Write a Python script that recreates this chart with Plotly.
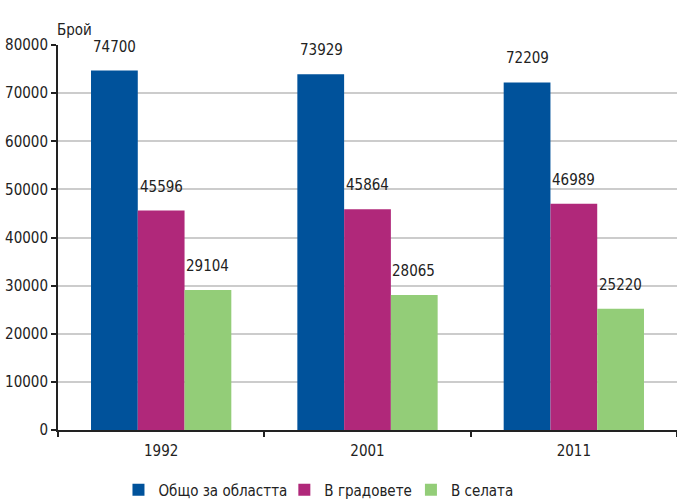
import plotly.graph_objects as go

years = ["1992", "2001", "2011"]
total = [74700, 73929, 72209]
towns = [45596, 45864, 46989]
villages = [29104, 28065, 25220]

series = [
    ("Общо за областта", total, "#00529B"),
    ("В градовете", towns, "#B0287A"),
    ("В селата", villages, "#93CD78"),
]

FONT = "Liberation Sans Narrow, DejaVu Sans Condensed, Arial Narrow, sans-serif"
legend_ids = ["legend", "legend2", "legend3"]
legend_x = [0.175, 0.42, 0.607]

fig = go.Figure()
for (name, vals, color), lg in zip(series, legend_ids):
    fig.add_trace(go.Bar(
        name=name, x=years, y=vals,
        marker=dict(color=color, line=dict(width=0)),
        text=[str(v) for v in vals],
        textposition="none",
        legend=lg,
    ))

# value labels floating above each bar
offsets = [-1, 0, 1]
for (name, vals, color), off in zip(series, offsets):
    for i, v in enumerate(vals):
        fig.add_annotation(
            x=i + off * 0.225, y=v, xref="x", yref="y",
            text=str(v), showarrow=False, yshift=24,
            font=dict(family=FONT, size=15, color="#222"),
        )

fig.add_annotation(
    text="Брой", xref="paper", yref="paper", x=-0.005, y=1.0,
    yshift=26, xanchor="left", showarrow=False,
    font=dict(family=FONT, size=15, color="#222"),
)

legend_style = dict(
    orientation="h", xref="container", yref="paper",
    y=-0.156, yanchor="middle", xanchor="left",
    font=dict(family=FONT, size=15, color="#222"),
    bgcolor="rgba(0,0,0,0)",
)

fig.update_layout(
    width=677, height=499,
    margin=dict(l=58, r=0, t=45, b=69, autoexpand=False),
    paper_bgcolor="white", plot_bgcolor="white",
    barmode="group", bargap=0.32, bargroupgap=0,
    font=dict(family=FONT, size=15, color="#222"),
    showlegend=True,
    legend=dict(x=legend_x[0], **legend_style),
    legend2=dict(x=legend_x[1], **legend_style),
    legend3=dict(x=legend_x[2], **legend_style),
    xaxis=dict(
        type="category", showline=True, linecolor="#222", linewidth=2,
        ticks="outside", tickson="boundaries", ticklen=5, tickwidth=2,
        tickcolor="#222", showgrid=False, ticklabelstandoff=6,
    ),
    yaxis=dict(
        range=[0, 80000], dtick=10000, showline=True, linecolor="#222",
        linewidth=2, ticks="outside", ticklen=5, tickwidth=2, tickcolor="#222",
        showgrid=True, gridcolor="#cccccc", gridwidth=1.5, zeroline=False,
        tickformat="d",
    ),
)

fig.write_html("out.html")
